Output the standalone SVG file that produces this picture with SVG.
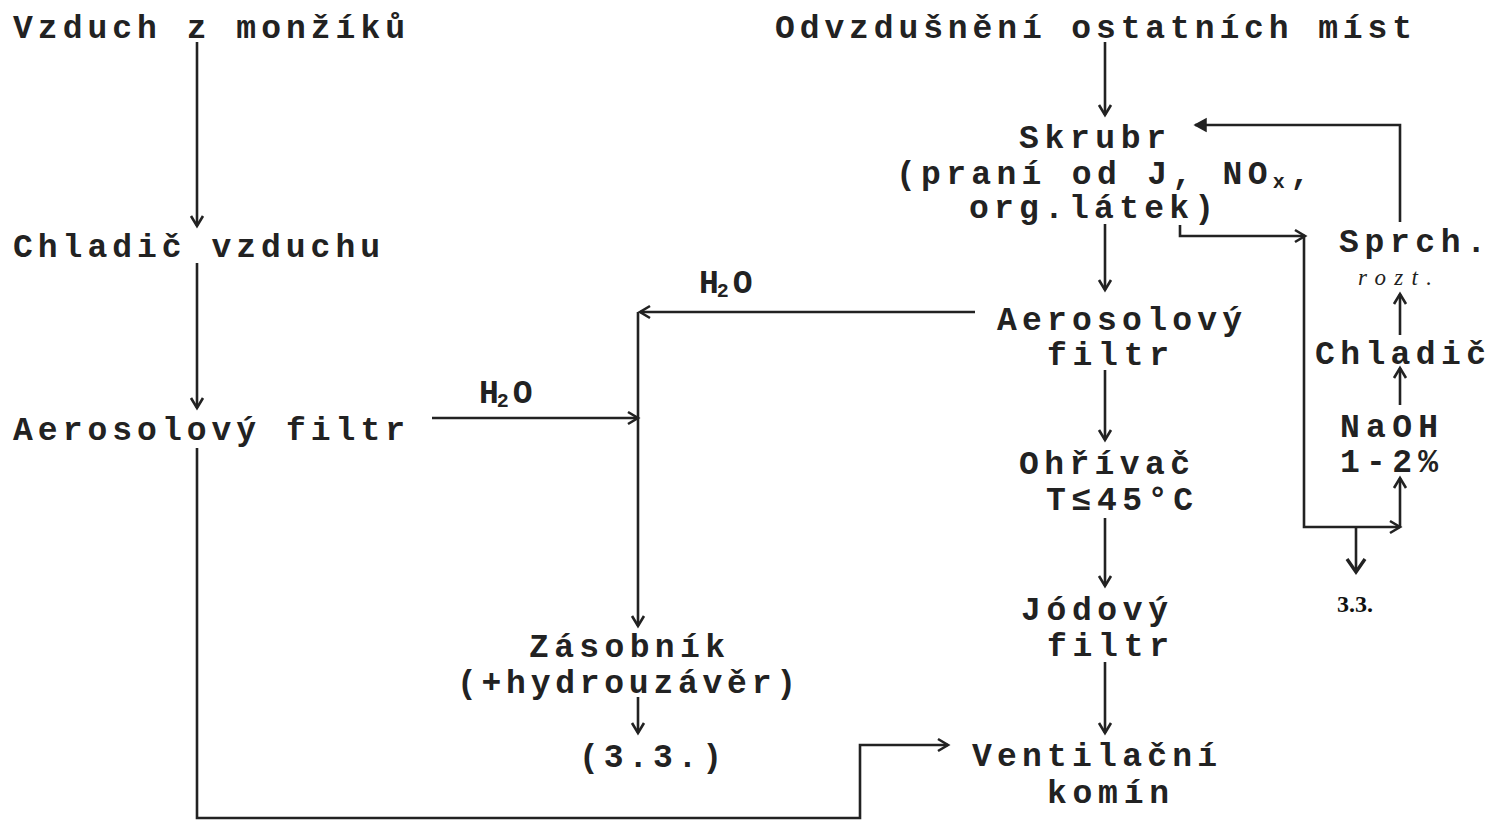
<svg xmlns="http://www.w3.org/2000/svg" width="1491" height="820" viewBox="0 0 1491 820">
<defs>
<style>
.t{font-family:"Liberation Mono","DejaVu Sans Mono",monospace;font-weight:bold;font-size:33px;fill:#222;}
.sub{font-size:20px;}
.it{font-family:"Liberation Serif","DejaVu Serif",serif;font-style:italic;font-size:23px;fill:#222;}
.sr{font-family:"Liberation Serif","DejaVu Serif",serif;font-weight:bold;font-size:24px;fill:#111;}
.c{fill:none;stroke:#222;stroke-width:2.6;}
</style>
<marker id="ah" markerUnits="userSpaceOnUse" markerWidth="24" markerHeight="24" viewBox="-12 -12 24 24" refX="0" refY="0" orient="auto">
<path d="M-10,-6 L0,0 L-10,6" fill="none" stroke="#222" stroke-width="2.6"/>
</marker>
<marker id="ahb" markerUnits="userSpaceOnUse" markerWidth="30" markerHeight="30" viewBox="-15 -15 30 30" refX="0" refY="0" orient="auto">
<path d="M-13,-9 L0,0 L-13,9" fill="none" stroke="#222" stroke-width="3.4"/>
</marker>
<marker id="ahf" markerUnits="userSpaceOnUse" markerWidth="24" markerHeight="24" viewBox="-12 -12 24 24" refX="0" refY="0" orient="auto">
<path d="M-11,-6 L0,0 L-11,6 Z" fill="#222" stroke="#222" stroke-width="1.5"/>
</marker>
</defs>
<rect width="1491" height="820" fill="#fff"/>

<g id="connectors">
<path class="c" d="M197,42 V226" marker-end="url(#ah)"/>
<path class="c" d="M197,263 V408" marker-end="url(#ah)"/>
<path class="c" d="M197,448 V818 H860 V745 H948" marker-end="url(#ah)"/>
<path class="c" d="M432,418 H638" marker-end="url(#ah)"/>
<path class="c" d="M975,312 H640" marker-end="url(#ah)"/>
<path class="c" d="M638,312 V626" marker-end="url(#ah)"/>
<path class="c" d="M638,697 V733" marker-end="url(#ah)"/>
<path class="c" d="M1105,42 V115" marker-end="url(#ah)"/>
<path class="c" d="M1105,224 V290" marker-end="url(#ah)"/>
<path class="c" d="M1105,370 V440" marker-end="url(#ah)"/>
<path class="c" d="M1105,518 V586" marker-end="url(#ah)"/>
<path class="c" d="M1105,662 V733" marker-end="url(#ah)"/>
<path class="c" d="M1180,225 V236 H1305" marker-end="url(#ah)"/>
<path class="c" d="M1304,236 V527 H1400" marker-end="url(#ah)"/>
<path class="c" d="M1400,527 V478" marker-end="url(#ah)"/>
<path class="c" d="M1356,527 V572" marker-end="url(#ahb)"/>
<path class="c" d="M1400,405 V368" marker-end="url(#ah)"/>
<path class="c" d="M1400,335 V294" marker-end="url(#ah)"/>
<path class="c" d="M1400,222 V125 H1195" marker-end="url(#ahf)"/>
</g>

<g id="vzduch-monziku"><text class="t" x="13" y="38" textLength="392" lengthAdjust="spacing">Vzduch z monžíků</text></g>
<g id="odvzdusneni"><text class="t" x="775" y="38" textLength="637" lengthAdjust="spacing">Odvzdušnění ostatních míst</text></g>
<g id="skrubr">
<text class="t" x="1019" y="148" textLength="147" lengthAdjust="spacing">Skrubr</text>
<text class="t" x="896" y="184" textLength="414" lengthAdjust="spacing">(praní od J, NO<tspan class="sub" dy="4">x</tspan><tspan dy="-4">,</tspan></text>
<text class="t" x="969" y="218" textLength="245" lengthAdjust="spacing">org.látek)</text>
</g>
<g id="chladic-vzduchu"><text class="t" x="13" y="257" textLength="367" lengthAdjust="spacing">Chladič vzduchu</text></g>
<g id="h2o-top"><text class="t" x="699" y="293">H<tspan class="sub" dy="4" dx="-2">2</tspan><tspan dy="-4" dx="4">O</tspan></text></g>
<g id="aerosolovy-filtr-right">
<text class="t" x="997" y="330" textLength="245" lengthAdjust="spacing">Aerosolový</text>
<text class="t" x="1047" y="365" textLength="122" lengthAdjust="spacing">filtr</text>
</g>
<g id="h2o-bottom"><text class="t" x="479" y="403">H<tspan class="sub" dy="4" dx="-2">2</tspan><tspan dy="-4" dx="4">O</tspan></text></g>
<g id="aerosolovy-filtr-left"><text class="t" x="13" y="440" textLength="392" lengthAdjust="spacing">Aerosolový filtr</text></g>
<g id="ohrivac">
<text class="t" x="1019" y="474" textLength="171" lengthAdjust="spacing">Ohřívač</text>
<text class="t" x="1046" y="510" textLength="147" lengthAdjust="spacing">T≤45°C</text>
</g>
<g id="jodovy-filtr">
<text class="t" x="1021" y="620" textLength="147" lengthAdjust="spacing">Jódový</text>
<text class="t" x="1047" y="656" textLength="122" lengthAdjust="spacing">filtr</text>
</g>
<g id="zasobnik">
<text class="t" x="529" y="657" textLength="196" lengthAdjust="spacing">Zásobník</text>
<text class="t" x="457" y="693" textLength="339" lengthAdjust="spacing">(+hydrouzávěr)</text>
</g>
<g id="out-33-left"><text class="t" x="579" y="767" textLength="143" lengthAdjust="spacing">(3.3.)</text></g>
<g id="ventilacni-komin">
<text class="t" x="972" y="766" textLength="245" lengthAdjust="spacing">Ventilační</text>
<text class="t" x="1047" y="803" textLength="122" lengthAdjust="spacing">komín</text>
</g>
<g id="sprch-rozt">
<text class="t" x="1339" y="252" textLength="147" lengthAdjust="spacing">Sprch.</text>
<text class="it" x="1358" y="285" textLength="74" lengthAdjust="spacing">rozt.</text>
</g>
<g id="chladic-right"><text class="t" x="1315" y="364" textLength="171" lengthAdjust="spacing">Chladič</text></g>
<g id="naoh">
<text class="t" x="1340" y="437" textLength="98" lengthAdjust="spacing">NaOH</text>
<text class="t" x="1340" y="472" textLength="98" lengthAdjust="spacing">1-2%</text>
</g>
<g id="out-33-right"><text class="sr" x="1337" y="612">3.3.</text></g>
</svg>
